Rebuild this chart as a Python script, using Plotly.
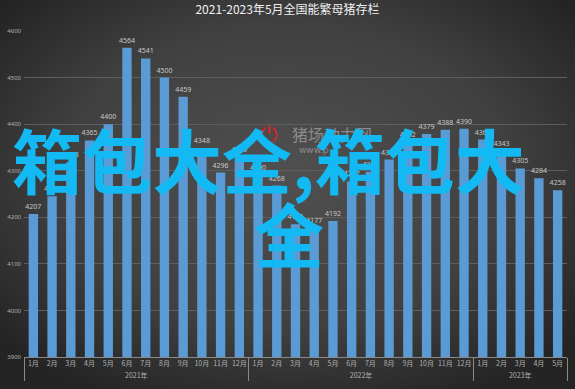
import plotly.graph_objects as go

years = ["2021年"] * 12 + ["2022年"] * 12 + ["2023年"] * 5
months = [f"{i}月" for i in range(1, 13)] * 2 + [f"{i}月" for i in range(1, 6)]
values = [4207, 4245, 4318, 4365, 4400, 4564, 4541, 4500, 4459, 4348, 4296, 4329,
          4290, 4268, 4185, 4177, 4192, 4277, 4298, 4324, 4362, 4379, 4388, 4390,
          4367, 4343, 4305, 4284, 4258]
title = "2021-2023年5月全国能繁母猪存栏"

L, R, T, B = 24, 8, 31, 32
W, H = 575, 389
PW, PH = W - L - R, H - T - B

bg_svg = ("data:image/svg+xml;utf8,"
          "<svg xmlns='http://www.w3.org/2000/svg' width='575' height='389'>"
          "<defs><radialGradient id='g' cx='50%' cy='45%' r='65%'>"
          "<stop offset='0%' stop-color='%23505050'/>"
          "<stop offset='60%' stop-color='%23404040'/>"
          "<stop offset='100%' stop-color='%23242424'/></radialGradient></defs>"
          "<rect width='575' height='389' fill='url(%23g)'/></svg>")

fig = go.Figure(go.Bar(
    x=[years, months], y=values,
    marker=dict(color="#5b9bd5", line=dict(width=0)),
    text=[str(v) for v in values], textposition="outside",
    constraintext="none",
    textfont=dict(size=7, color="#c8c8c8", family="Noto Sans"),
    cliponaxis=False,
))


def px(xp, yp):
    return (xp - L) / PW, 1 - (yp - T) / PH


ann = []
x0, y0 = px(290, 134)
ann.append(dict(text="猪场动力网", x=x0, y=y0, xref="paper", yref="paper", showarrow=False,
                font=dict(size=16, color="#8c8c8c", family="Noto Sans CJK SC"),
                xanchor="left", yanchor="middle"))
x0, y0 = px(297, 150)
ann.append(dict(text="www.p", x=x0, y=y0, xref="paper", yref="paper", showarrow=False,
                font=dict(size=9, color="#8c8c8c", family="DejaVu Sans"),
                xanchor="left", yanchor="middle"))
x0, y0 = px(268, 135)
ann.append(dict(text="⏻", x=x0, y=y0, xref="paper", yref="paper", showarrow=False,
                font=dict(size=22, color="#e0202a", family="DejaVu Sans"),
                xanchor="center", yanchor="middle"))
x0, y0 = px(268, 158)
ann.append(dict(text="<b>箱包大全,箱包大</b>", x=x0, y=y0, xref="paper", yref="paper", showarrow=False,
                font=dict(size=70, color="#12b9f2", family="Noto Sans CJK SC"),
                xanchor="center", yanchor="middle"))
x0, y0 = px(289, 232)
ann.append(dict(text="<b>全</b>", x=x0, y=y0, xref="paper", yref="paper", showarrow=False,
                font=dict(size=70, color="#12b9f2", family="Noto Sans CJK SC"),
                xanchor="center", yanchor="middle"))

fig.update_layout(
    width=W, height=H,
    margin=dict(l=L, r=R, t=T, b=B, autoexpand=False),
    paper_bgcolor="#3a3a3a", plot_bgcolor="rgba(0,0,0,0)",
    bargap=0.5, showlegend=False,
    title=dict(text=title, x=0.5, xanchor="center", y=0.985, yanchor="top",
               font=dict(size=12, color="#f0f0f0", family="Noto Sans CJK SC")),
    font=dict(family="Noto Sans CJK SC", color="#b0b0b0"),
    images=[dict(source=bg_svg, xref="paper", yref="paper", x=-L / PW, y=1 + T / PH,
                 sizex=W / PW, sizey=H / PH, sizing="stretch", layer="below",
                 xanchor="left", yanchor="top")],
    annotations=ann,
)

fig.update_yaxes(range=[3900, 4600], dtick=100, showgrid=True, gridcolor="#5e5e5e",
                 gridwidth=1, zeroline=False, showline=False, automargin=False,
                 ticklabelstandoff=2,
                 tickfont=dict(size=6, color="#b0b0b0", family="Noto Sans"))
fig.update_xaxes(showline=True, linecolor="#8a8a8a", linewidth=1, showgrid=False,
                 showdividers=True, dividercolor="#8a8a8a", dividerwidth=1,
                 automargin=False,
                 ticks="", tickfont=dict(size=7, color="#b0b0b0", family="Noto Sans CJK SC"),
                 tickangle=0)

fig.write_html("out.html", config={"displayModeBar": False},
               post_script="document.body.style.margin='0';document.body.style.background='#2a2a2a';")
